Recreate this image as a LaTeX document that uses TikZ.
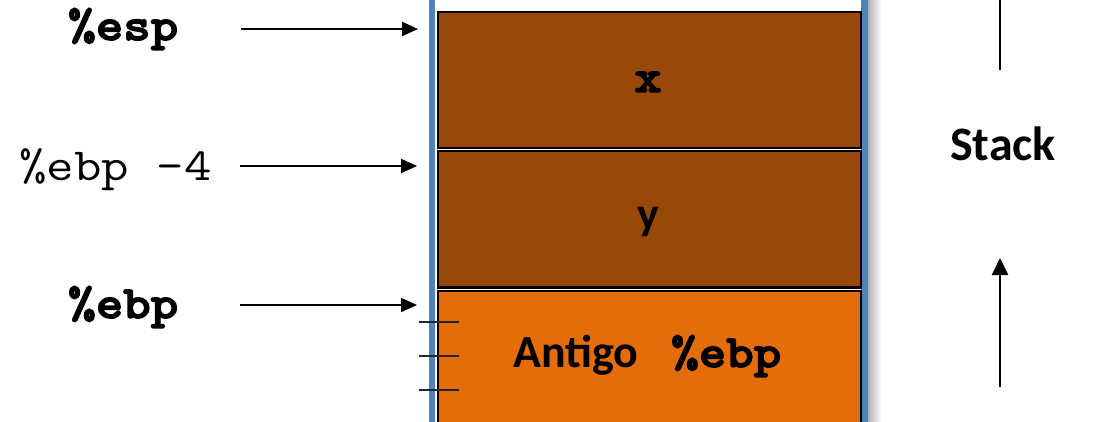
\documentclass[tikz,border=0pt]{standalone}
\usepackage{fontspec}
\setmainfont{Carlito}
\newfontfamily\monoreg{Latin Modern Mono}[FakeStretch=1.16]
\newfontfamily\monobold{lmmonolt10-bold}[Extension=.otf,FakeStretch=1.14,FakeBold=3]
\usetikzlibrary{arrows.meta}
\definecolor{cellbrown}{HTML}{984807}
\definecolor{cellorange}{HTML}{E46C0A}
\definecolor{frameblue}{HTML}{4F81BD}
\begin{document}
\begin{tikzpicture}[x=1pt,y=-1pt,
  cell/.style={draw=black,line width=2.5pt,minimum width=423pt,inner sep=0pt,anchor=north west},
  regbold/.style={inner sep=0pt,anchor=base west,font=\fontsize{46}{50}\selectfont\monobold},
  regplain/.style={inner sep=0pt,anchor=base west,font=\fontsize{46}{50}\selectfont\monoreg},
  sansbold/.style={inner sep=0pt,anchor=base west,font=\fontsize{46}{50}\selectfont\bfseries},
  pointer/.style={-{Triangle[length=16pt,width=14pt]},line width=2pt},
  growth/.style={line width=2.5pt},
  tick/.style={line width=1.6pt,draw=black!85}]
\useasboundingbox (0,0) rectangle (1102,422);
\fill[white] (0,0) rectangle (1102,422);

% stack frame with its shadow
\shade[left color=black!30,right color=white] (868,0) rectangle (882,422);
\fill[frameblue] (429,0) rectangle (435,422);
\fill[frameblue] (861,0) rectangle (868,422);

% stack cells
\node[cell,fill=cellbrown,minimum height=136pt] (cellx) at (436.5,11) {};
\node[cell,fill=cellbrown,minimum height=136pt] (celly) at (436.5,150) {};
\node[cell,fill=cellorange,minimum height=150pt] (cellebp) at (436.5,289.5) {};

% cell contents
\node[regbold,anchor=base] (vx) at (648,92) {x};
\node[sansbold,anchor=base] (vy) at (648,229) {y};
\node[sansbold] (old) at (513,367) {Antigo};
\node[regbold] (oldreg) at (671,367) {\%ebp};

% tick marks on the old frame pointer cell
\draw[tick] (419,322) coordinate (t1a) -- (459,322) coordinate (t1b);
\draw[tick] (419,356) coordinate (t2a) -- (459,356) coordinate (t2b);
\draw[tick] (419,390) coordinate (t3a) -- (459,390) coordinate (t3b);

% register labels and pointers
\node[regbold] (esp) at (68,40) {\%esp};
\node[regplain] (ebpm) at (19,181) {\%ebp -4};
\node[regbold] (ebp) at (68,318) {\%ebp};
\coordinate (espS) at (241,29);   \coordinate (espT) at (418,29);
\coordinate (ebpmS) at (240,166); \coordinate (ebpmT) at (417,166);
\coordinate (ebpS) at (240,305);  \coordinate (ebpT) at (417,305);
\draw[pointer] (espS) -- (espT);
\draw[pointer] (ebpmS) -- (ebpmT);
\draw[pointer] (ebpS) -- (ebpT);

% stack growth direction
\node[inner sep=0pt,anchor=base west,font=\fontsize{48}{52}\selectfont\bfseries] (stack) at (950,161) {Stack};
\coordinate (gTopA) at (1000,0); \coordinate (gTopB) at (1000,70);
\coordinate (gBotA) at (1000,387); \coordinate (gBotB) at (1000,258);
\draw[growth] (gTopA) -- (gTopB);
\draw[growth,-{Triangle[length=17pt,width=16pt]}] (gBotA) -- (gBotB);
\end{tikzpicture}
\end{document}
